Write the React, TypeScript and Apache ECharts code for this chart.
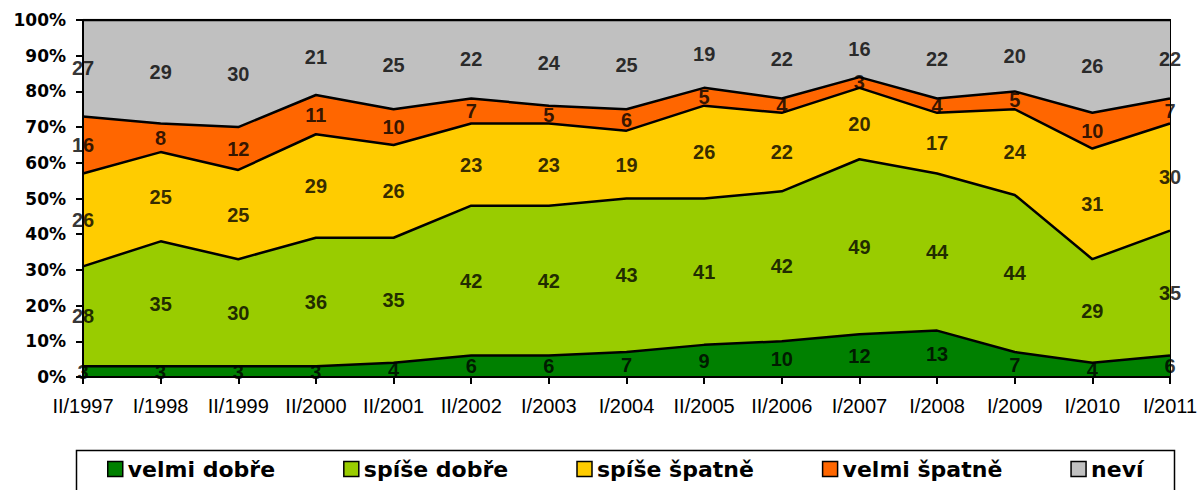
import React, { useEffect, useRef } from "react";
import * as echarts from "echarts";

const categories = ["II/1997", "I/1998", "II/1999", "II/2000", "II/2001", "II/2002", "I/2003", "I/2004", "II/2005", "II/2006", "I/2007", "I/2008", "I/2009", "I/2010", "I/2011"];
const velmiDobre = [3, 3, 3, 3, 4, 6, 6, 7, 9, 10, 12, 13, 7, 4, 6];
const spiseDobre = [28, 35, 30, 36, 35, 42, 42, 43, 41, 42, 49, 44, 44, 29, 35];
const spiseSpatne = [26, 25, 25, 29, 26, 23, 23, 19, 26, 22, 20, 17, 24, 31, 30];
const velmiSpatne = [16, 8, 12, 11, 10, 7, 5, 6, 5, 4, 3, 4, 5, 10, 7];
const nevi = [27, 29, 30, 21, 25, 22, 24, 25, 19, 22, 16, 22, 20, 26, 22];

const seriesNames = ["velmi dobře", "spíše dobře", "spíše špatně", "velmi špatně", "neví"];
const seriesValues = [velmiDobre, spiseDobre, spiseSpatne, velmiSpatne, nevi];
const seriesColors = ["#008000", "#99CC00", "#FFCC00", "#FF6600", "#C0C0C0"];

const SANS = "'Liberation Sans', Arial, sans-serif";

export default function App() {
  const ref = useRef<HTMLDivElement>(null);
  useEffect(() => {
    if (!ref.current) return;
    const chart = echarts.init(ref.current, null, { renderer: "svg" });

    const labelPoints: any[] = [];
    const cum = categories.map(() => 0);
    seriesValues.forEach((vals) => {
      vals.forEach((v, i) => {
        labelPoints.push([i, cum[i] + v / 2, v]);
        cum[i] += v;
      });
    });

    const areaSeries = seriesNames.map((name, k) => ({
      name,
      type: "line",
      stack: "total",
      data: seriesValues[k],
      symbol: "none",
      color: seriesColors[k],
      itemStyle: { color: seriesColors[k] },
      lineStyle: { color: "#000", width: 2.5 },
      areaStyle: { color: seriesColors[k], opacity: 1 },
      z: 2,
    }));

    chart.setOption({
      animation: false,
      grid: {
        left: 83,
        top: 20,
        right: 32,
        bottom: 113,
        show: true,
        borderColor: "#000",
        borderWidth: 2,
        backgroundColor: "transparent",
      },
      xAxis: {
        type: "category",
        data: categories,
        boundaryGap: false,
        axisLine: { lineStyle: { color: "#000", width: 2 } },
        axisTick: { show: true, length: 7, lineStyle: { color: "#000", width: 2 } },
        axisLabel: {
          color: "#000",
          fontFamily: SANS,
          fontWeight: "normal",
          fontSize: 20,
          margin: 19,
          interval: 0,
        },
        splitLine: { show: false },
        z: 5,
      },
      yAxis: {
        type: "value",
        min: 0,
        max: 100,
        interval: 10,
        axisLine: { show: true, lineStyle: { color: "#000", width: 2 } },
        axisTick: { show: true, length: 7, lineStyle: { color: "#000", width: 2 } },
        axisLabel: {
          color: "#000",
          fontFamily: "DejaVu Sans",
          fontWeight: "bold",
          fontSize: 17,
          margin: 17,
          formatter: "{value}%",
        },
        splitLine: { show: false },
        z: 5,
      },
      legend: {
        data: seriesNames,
        left: 107,
        top: 458,
        icon: "rect",
        itemWidth: 15,
        itemHeight: 15,
        itemGap: 68,
        padding: 0,
        itemStyle: { borderColor: "#000", borderWidth: 1.5 },
        textStyle: {
          color: "#000",
          fontFamily: "DejaVu Sans",
          fontWeight: "bold",
          fontSize: 22,
          lineHeight: 22,
          padding: [0, 0, 0, 0],
        },
        selectedMode: false,
      },
      graphic: [
        {
          type: "rect",
          left: 74,
          top: 448,
          shape: { width: 1098, height: 80 },
          style: { fill: "none", stroke: "#000", lineWidth: 1.5 },
          silent: true,
        },
      ],
      series: [
        ...areaSeries,
        {
          name: "labels",
          type: "scatter",
          data: labelPoints,
          symbolSize: 0,
          silent: true,
          clip: false,
          z: 10,
          label: {
            show: true,
            position: "inside",
            color: "#000",
            fontFamily: SANS,
            fontWeight: "bold",
            fontSize: 20,
            formatter: (p: any) => String(p.value[2]),
          },
        },
      ],
    });
    return () => chart.dispose();
  }, []);
  return (
    <div
      ref={ref}
      style={{ position: "absolute", left: 0, top: 0, width: 1202, height: 490, background: "#fff" }}
    />
  );
}
